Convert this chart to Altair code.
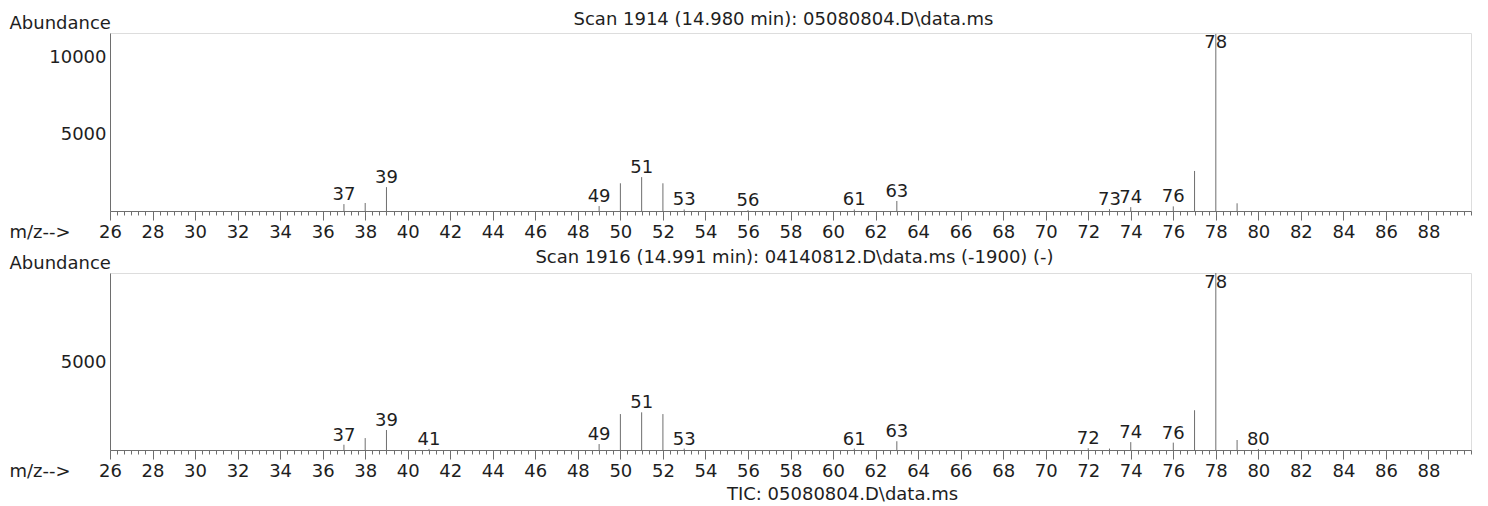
import altair as alt
import pandas as pd

# ---------------- data ----------------
scan_titles = [
    "Scan 1914 (14.980 min): 05080804.D\\data.ms",
    "Scan 1916 (14.991 min): 04140812.D\\data.ms (-1900) (-)",
]
tic_title = "TIC: 05080804.D\\data.ms"

# upper spectrum (m/z, abundance)
mz_top = [37, 38, 39, 49, 50, 51, 52, 53, 56, 61, 63, 73, 74, 76, 77, 78, 79]
ab_top = [450, 520, 1550, 320, 1800, 2200, 1800, 100, 60, 100, 650, 120, 250, 300, 2600, 11500, 500]
lab_top = [37, 39, 49, 51, 53, 56, 61, 63, 73, 74, 76, 78]

# lower spectrum (m/z, abundance)
mz_bot = [37, 38, 39, 41, 49, 50, 51, 52, 53, 61, 63, 72, 73, 74, 76, 77, 78, 79, 80]
ab_bot = [300, 680, 1140, 60, 340, 2050, 2150, 2050, 80, 80, 500, 100, 80, 450, 420, 2270, 10100, 570, 60]
lab_bot = [37, 39, 41, 49, 51, 53, 61, 63, 72, 74, 76, 78, 80]

yticks_top = [5000, 10000]
yticks_bot = [5000]
xlabels = list(range(26, 89, 2))          # labelled m/z values
xticks = [26 + k / 3 for k in range(193)]  # ruler ticks every 1/3 unit

# ---------------- styling ----------------
FONT = "DejaVu Sans"
FS = 18
TXT = "#1e1e1e"
LINE = "#6e6e6e"
W = 1361

major_test = f"indexof({xlabels}, round(datum.value * 100) / 100) >= 0"


def panel(mz, ab, labs, ymax, yvals, height, title, title_dx, title_offset):
    df = pd.DataFrame({"mz": mz, "ab": ab})
    cap = ymax - 19 * ymax / height
    ly = [min(ab[mz.index(m)] if m in mz else 0, cap) for m in labs]
    ldf = pd.DataFrame({"mz": labs, "ly": ly})

    x_axis = alt.Axis(
        values=xticks,
        labelExpr=f"{major_test} ? format(round(datum.value), 'd') : ''",
        labelOverlap=False,
        labelFlush=False,
        labelFont=FONT,
        labelFontSize=FS,
        labelColor=TXT,
        labelPadding=3,
        tickColor=LINE,
        tickSize={"condition": {"test": major_test, "value": 9}, "value": 4},
        domainColor=LINE,
        grid=False,
        title="m/z-->",
        titleX=-101,
        titleY=12,
        titleAlign="left",
        titleBaseline="top",
        titleFont=FONT,
        titleFontSize=FS,
        titleFontWeight="normal",
        titleColor=TXT,
    )
    y_axis = alt.Axis(
        values=yvals,
        format="d",
        ticks=False,
        labelPadding=4,
        labelFont=FONT,
        labelFontSize=FS,
        labelColor=TXT,
        domainColor=LINE,
        grid=False,
        title="Abundance",
        titleAngle=0,
        titleAlign="left",
        titleBaseline="alphabetic",
        titleX=-101,
        titleY=-5,
        titleFont=FONT,
        titleFontSize=FS,
        titleFontWeight="normal",
        titleColor=TXT,
    )
    xs = alt.Scale(domain=[26, 90], nice=False, zero=False)
    ys = alt.Scale(domain=[0, ymax], nice=False)

    rules = alt.Chart(df).mark_rule(color=LINE, strokeWidth=1).encode(
        x=alt.X("mz:Q", scale=xs, axis=x_axis),
        y=alt.Y("ab:Q", scale=ys, axis=y_axis),
        y2=alt.datum(0),
    )
    texts = alt.Chart(ldf).mark_text(
        font=FONT, fontSize=FS, color=TXT, baseline="alphabetic", dy=-4
    ).encode(
        x=alt.X("mz:Q", scale=xs, axis=x_axis),
        y=alt.Y("ly:Q", scale=ys, axis=y_axis),
        text=alt.Text("mz:Q", format="d"),
    )
    return alt.layer(rules, texts).properties(
        width=W,
        height=height,
        title=alt.TitleParams(
            title,
            anchor="middle",
            frame="group",
            dx=title_dx,
            offset=title_offset,
            font=FONT,
            fontSize=FS,
            fontWeight="normal",
            color=TXT,
        ),
    )


top = panel(mz_top, ab_top, lab_top, 11560, yticks_top, 178, scan_titles[0], -7, -15)
bot = panel(mz_bot, ab_bot, lab_bot, 10100, yticks_bot, 177, scan_titles[1], 4, -13)

chart = (
    alt.vconcat(top, bot, spacing=62, bounds="flush")
    .properties(
        padding={"top": 2, "left": 0, "right": 0, "bottom": 0},
        title=alt.TitleParams(
            tic_title,
            orient="bottom",
            anchor="middle",
            frame="group",
            dx=52,
            offset=5,
            font=FONT,
            fontSize=FS,
            fontWeight="normal",
            color=TXT,
        ),
    )
    .configure_view(stroke=None)
    .configure(background="white")
)

chart.save("out.html", embed_options={"renderer": "svg", "actions": False})
